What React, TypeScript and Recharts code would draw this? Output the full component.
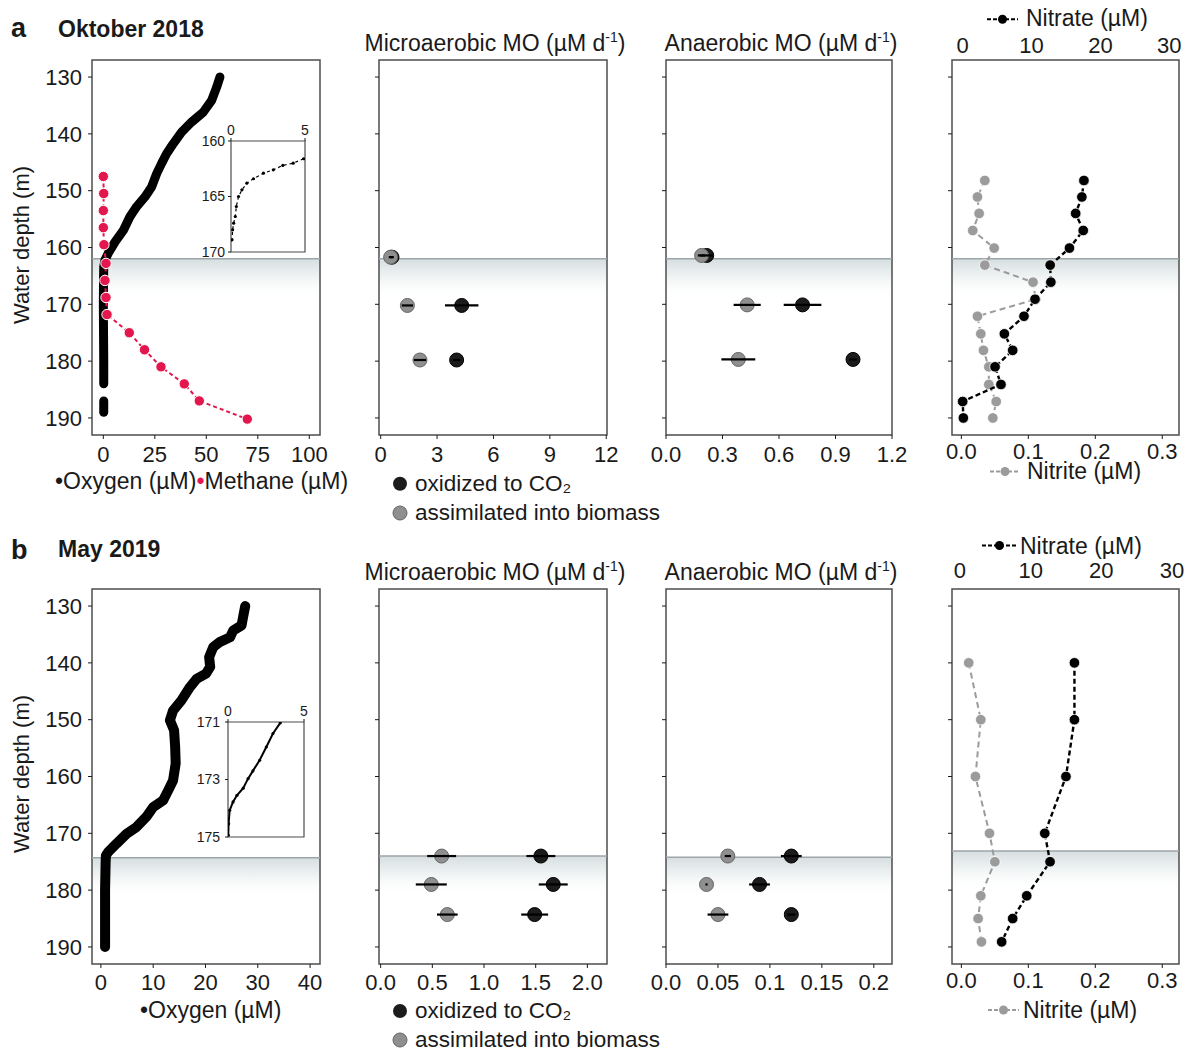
import React from "react";
import { ScatterChart, Scatter, XAxis, YAxis, ReferenceArea, ReferenceLine, ErrorBar } from "recharts";

const FONT = '"Liberation Sans", Arial, Helvetica, sans-serif';
const INK = "#1a1a1a";
const FRAME = "#4d4d4d";
const RED = "#e3174d";
const DARK_DOT = "#1c1c1c";
const GREY_DOT = "#8f8f8f";
const NITRITE = "#9b9b9b";

const DEPTH_DOMAIN = [127, 193];
const DEPTH_TICKS = [130, 140, 150, 160, 170, 180, 190];

// ---------- October 2018 ----------
const OCT_O2_DEPTH = [130, 131.8, 134.1, 136.2, 137.9, 139.7, 141.7, 143.5, 145.2, 147, 149.3, 151.1, 152.8, 154.6, 157, 159, 161, 162.2, 163.4, 166, 170, 175, 180, 184];
const OCT_O2 = [56.6, 55, 52.6, 48.5, 42.9, 38, 34, 30.7, 28.3, 25.9, 23.5, 20.2, 16.2, 12.9, 9.7, 5.7, 2.4, 0.8, 0.2, 0.1, 0, 0.1, 0.2, 0.2];
const OCT_O2_DEEP_DEPTH = [187, 189];
const OCT_O2_DEEP = [0.2, 0.2];

const OCT_INSET_DEPTH = [161.6, 162, 162.2, 162.6, 162.9, 163.4, 163.8, 164.4, 165, 165.9, 166.8, 167.4, 168, 168.9];
const OCT_INSET_O2 = [4.9, 4.2, 3.5, 2.86, 2.19, 1.52, 1.07, 0.74, 0.51, 0.36, 0.29, 0.18, 0.11, 0.07];

const OCT_CH4_DEPTH = [147.5, 150.5, 153.5, 156.5, 159.5, 162.8, 165.8, 168.8, 171.8, 175, 178, 181, 184, 187, 190.2];
const OCT_CH4 = [0, 0.2, 0, 0, 0.3, 1.3, 0.8, 1.3, 1.8, 12.6, 20, 28, 39.3, 46.6, 69.9];

const MICRO_OCT_DEPTH = [161.7, 170.2, 179.8];
const MICRO_OCT_CO2 = [0.6, 4.31, 4.04];
const MICRO_OCT_CO2_ERR = [0.1, 0.89, 0.2];
const MICRO_OCT_BIO = [0.53, 1.42, 2.09];
const MICRO_OCT_BIO_ERR = [0.1, 0.3, 0.33];

const ANAER_OCT_DEPTH = [161.4, 170.1, 179.7];
const ANAER_OCT_CO2 = [0.216, 0.725, 0.993];
const ANAER_OCT_CO2_ERR = [0.035, 0.1, 0.02];
const ANAER_OCT_BIO = [0.189, 0.431, 0.384];
const ANAER_OCT_BIO_ERR = [0.02, 0.072, 0.09];

const N_OCT_DEPTH = [148.2, 151.1, 154, 157, 160.1, 163.1, 166.1, 169.1, 172.1, 175.2, 178.1, 181, 184.1, 187.1, 190];
const N_OCT_NO3 = [17.6, 17.3, 16.4, 17.5, 15.5, 12.7, 12.8, 10.5, 8.9, 6.05, 7.26, 4.7, 5.56, 0, 0.1];
const N_OCT_NO2 = [0.035, 0.024, 0.0265, 0.017, 0.049, 0.035, 0.107, 0.111, 0.024, 0.029, 0.033, 0.041, 0.041, 0.052, 0.047];

// ---------- May 2019 ----------
const MAY_O2_DEPTH = [130, 131.9, 133.4, 134.3, 135.5, 136.3, 137.2, 139, 140.7, 141.9, 142.8, 144.3, 146.6, 148.4, 150.1, 151.9, 154.8, 157.7, 160.7, 162.4, 164.2, 165.4, 167.1, 168.9, 170.1, 171.8, 173.3, 173.9, 175.3, 180, 185, 190];
const MAY_O2 = [27.6, 27.2, 26.9, 25.3, 24.7, 22.8, 21.5, 20.7, 20.9, 20.1, 18.3, 17, 15.4, 13.8, 13.2, 14, 14.2, 14.3, 13.8, 12.9, 11.9, 10, 8.7, 6.8, 4.9, 3, 1.4, 0.96, 0.9, 0.8, 0.8, 0.8];

const MAY_INSET_DEPTH = [171.03, 171.4, 171.87, 172.33, 172.7, 172.97, 173.3, 173.55, 173.78, 174.07, 174.54, 174.94];
const MAY_INSET_O2 = [3.44, 2.96, 2.52, 2.08, 1.64, 1.32, 1.0, 0.59, 0.33, 0.11, 0.04, 0.02];

const RATE_MAY_DEPTH = [174, 179, 184.3];
const MICRO_MAY_CO2 = [1.55, 1.67, 1.49];
const MICRO_MAY_CO2_ERR = [0.14, 0.14, 0.13];
const MICRO_MAY_BIO = [0.59, 0.49, 0.645];
const MICRO_MAY_BIO_ERR = [0.14, 0.15, 0.1];
const ANAER_MAY_CO2 = [0.1206, 0.09, 0.1206];
const ANAER_MAY_CO2_ERR = [0.01, 0.01, 0.004];
const ANAER_MAY_BIO = [0.0595, 0.039, 0.05];
const ANAER_MAY_BIO_ERR = [0.003, 0.001, 0.01];

const N_MAY_DEPTH = [140, 150, 160, 170, 175, 181, 185, 189.1];
const N_MAY_NO3 = [16.2, 16.2, 15.0, 12.0, 12.75, 9.45, 7.46, 5.9];
const N_MAY_NO2 = [0.011, 0.029, 0.021, 0.042, 0.05, 0.029, 0.025, 0.03];

const pts = (xs: number[], ys: number[], es?: number[]) => xs.map((x, i) => ({ x, y: ys[i], e: es ? es[i] : 0 }));

// panel boxes (plot area, page px)
const COL_X = [[92, 320], [379, 607], [666, 892], [952, 1179]];
const ROW_Y = [[60, 435], [589, 964]];
const PAD_L = 60, PAD_T = 50, PAD_R = 20, PAD_B = 40;

const TICK = { fontSize: 22, fill: INK, fontFamily: FONT };
const THICK_O2 = { stroke: "#000", strokeWidth: 9, strokeLinecap: "round", strokeLinejoin: "round" };

const circle = (r: number, fill: string, stroke = "none", sw = 0) => (p: any) =>
  <circle cx={p.cx} cy={p.cy} r={r} fill={fill} stroke={stroke} strokeWidth={sw} />;
const none = () => <g />;

function Panel({ col, row, topAxis = 0, hidden = false, children }: any) {
  const [x1, x2] = COL_X[col];
  const [y1, y2] = ROW_Y[row];
  const margin = hidden
    ? { top: PAD_T, right: PAD_R, bottom: PAD_B, left: PAD_L }
    : { top: PAD_T - topAxis, right: PAD_R, bottom: 0, left: 0 };
  return (
    <div style={{ position: "absolute", left: x1 - PAD_L, top: y1 - PAD_T }}>
      <ScatterChart width={x2 - x1 + PAD_L + PAD_R} height={y2 - y1 + PAD_T + PAD_B} margin={margin}>
        {children}
      </ScatterChart>
    </div>
  );
}

const depthAxis = (labels: boolean) => (
  <YAxis key="yd" type="number" dataKey="y" domain={DEPTH_DOMAIN} ticks={DEPTH_TICKS} reversed allowDataOverflow
    width={PAD_L} axisLine={false} tickLine={{ stroke: INK }} tickSize={4} tickMargin={6} interval={0}
    tick={TICK} tickFormatter={labels ? undefined : () => ""} />
);

const xBottom = (domain: number[], ticks: number[], fmt?: (v: number) => string, id: any = 0, margin = 7) => (
  <XAxis key={"xb" + id} xAxisId={id} type="number" dataKey="x" domain={domain} ticks={ticks} allowDataOverflow
    height={PAD_B} axisLine={false} tickLine={{ stroke: INK }} tickSize={4} tickMargin={margin} interval={0}
    tick={TICK} tickFormatter={fmt} />
);

const shade = (d: number, id: string, xId: any = 0) => [
  <defs key="g">
    <linearGradient id={id} x1="0" y1="0" x2="0" y2="1">
      <stop offset="0" stopColor="#d6dee0" stopOpacity={1} />
      <stop offset="0.4" stopColor="#e9eeef" stopOpacity={0.85} />
      <stop offset="1" stopColor="#ffffff" stopOpacity={0} />
    </linearGradient>
  </defs>,
  <ReferenceArea key="sh" xAxisId={xId} y1={d} y2={d + 7} fill={`url(#${id})`} fillOpacity={1} stroke="none" ifOverflow="visible" />,
  <ReferenceLine key="ln" xAxisId={xId} y={d} stroke="#9ca5a8" strokeWidth={1.5} />,
];

const frame = (domain: number[], xId: any = 0) => (
  <ReferenceArea key="fr" xAxisId={xId} x1={domain[0]} x2={domain[1]} y1={DEPTH_DOMAIN[0]} y2={DEPTH_DOMAIN[1]}
    fill="none" fillOpacity={0} stroke={FRAME} strokeWidth={1.5} ifOverflow="visible" />
);

const rates = (co2: any[], bio: any[]) => [
  <Scatter key="c" data={co2} shape={circle(7, DARK_DOT, "#000", 1)} isAnimationActive={false} />,
  <Scatter key="b" data={bio} shape={circle(7, GREY_DOT, "#666", 1)} isAnimationActive={false} />,
];

// error bars in a transparent chart laid over the panel so the bars sit on top of the dots
function ErrOverlay({ col, row, domain, co2, bio }: any) {
  return (
    <Panel col={col} row={row} hidden>
      <XAxis type="number" dataKey="x" domain={domain} allowDataOverflow hide />
      <YAxis type="number" dataKey="y" domain={DEPTH_DOMAIN} reversed allowDataOverflow hide />
      {[co2, bio].map((d, i) => (
        <Scatter key={i} data={d} shape={none} isAnimationActive={false}>
          <ErrorBar dataKey="e" direction="x" width={0} stroke="#000" strokeWidth={2.2} />
        </Scatter>
      ))}
    </Panel>
  );
}

const nutrients = (no2: any[], no3: any[]) => [
  <Scatter key="n2" data={no2} shape={circle(5.3, NITRITE, "#fff", 0.8)} isAnimationActive={false}
    line={{ stroke: NITRITE, strokeWidth: 2, strokeDasharray: "6 4" }} />,
  <Scatter key="n3" xAxisId="no3" data={no3} shape={circle(5.3, "#000", "#fff", 0.8)} isAnimationActive={false}
    line={{ stroke: "#000", strokeWidth: 2.4, strokeDasharray: "5 3" }} />,
];

const fix1 = (v: number) => v.toFixed(1);
const anaerMayFmt = (v: number) => (v === 0 ? "0.0" : String(v));

function Inset({ box, yDomain, yTicks, data, lineMode, tickMargin }: any) {
  const [x1, x2, y1, y2] = box;
  const L = 40, T = 24, B = 14;
  return (
    <div style={{ position: "absolute", left: x1 - L, top: y1 - T }}>
      <ScatterChart width={x2 - x1 + L + 8} height={y2 - y1 + T + B} margin={{ top: 0, right: 8, bottom: B, left: 0 }}>
        <XAxis type="number" dataKey="x" orientation="top" domain={[0, 5]} ticks={[0, 5]} allowDataOverflow height={T}
          axisLine={false} tickLine={{ stroke: INK }} tickSize={3} tickMargin={3} interval={0}
          tick={{ fontSize: 14, fill: INK, fontFamily: FONT }} />
        <YAxis type="number" dataKey="y" domain={yDomain} ticks={yTicks} reversed allowDataOverflow width={L}
          axisLine={false} tickLine={{ stroke: INK }} tickSize={3} tickMargin={tickMargin} interval={0}
          tick={{ fontSize: 14, fill: INK, fontFamily: FONT }} />
        <ReferenceArea x1={0} x2={5} y1={yDomain[0]} y2={yDomain[1]} fill="none" fillOpacity={0} stroke={FRAME}
          strokeWidth={1.2} ifOverflow="visible" />
        <Scatter data={data} shape={circle(1.6, "#000")} isAnimationActive={false}
          line={lineMode ? { stroke: "#000", strokeWidth: 2 } : { stroke: "#000", strokeWidth: 1.2, strokeDasharray: "3 3" }} />
      </ScatterChart>
    </div>
  );
}

const O2_OCT_DOMAIN = [-5.5, 105.2];
const O2_MAY_DOMAIN = [-1.7, 41.9];
const MICRO_OCT_DOMAIN = [-0.09, 12.04];
const MICRO_MAY_DOMAIN = [-0.016, 2.19];
const ANAER_OCT_DOMAIN = [0, 1.2];
const ANAER_MAY_DOMAIN = [0, 0.2175];
const NO2_DOMAIN = [-0.014, 0.325];
const NO3_OCT_DOMAIN = [-1.55, 31.4];
const NO3_MAY_DOMAIN = [-1.13, 31.0];

function NutrientPanel({ row, no2, no3, no3Domain, chemo, topMargin, id }: any) {
  return (
    <Panel col={3} row={row} topAxis={32}>
      {depthAxis(false)}
      {xBottom(NO2_DOMAIN, [0, 0.1, 0.2, 0.3], fix1, 0, 4)}
      <XAxis xAxisId="no3" orientation="top" type="number" dataKey="x" domain={no3Domain} ticks={[0, 10, 20, 30]}
        allowDataOverflow height={32} axisLine={false} tickLine={false} tickSize={4} tickMargin={topMargin}
        interval={0} tick={TICK} />
      {shade(chemo, id)}
      {nutrients(no2, no3)}
      {frame(NO2_DOMAIN)}
    </Panel>
  );
}

function RatePanel({ col, row, domain, ticks, fmt, chemo, id, co2, bio, margin = 7 }: any) {
  return (
    <>
      <Panel col={col} row={row}>
        {depthAxis(false)}
        {xBottom(domain, ticks, fmt, 0, margin)}
        {shade(chemo, id)}
        {rates(co2, bio)}
        {frame(domain)}
      </Panel>
      <ErrOverlay col={col} row={row} domain={domain} co2={co2} bio={bio} />
    </>
  );
}

export default function App() {
  const octO2 = pts(OCT_O2, OCT_O2_DEPTH);
  const octO2Deep = pts(OCT_O2_DEEP, OCT_O2_DEEP_DEPTH);
  const octCh4 = pts(OCT_CH4, OCT_CH4_DEPTH);
  const mayO2 = pts(MAY_O2, MAY_O2_DEPTH);

  const legendSym = (x1: number, x2: number, y: number, color: string, dash: string) => (
    <g>
      <line x1={x1} x2={x2} y1={y} y2={y} stroke={color} strokeWidth={2} strokeDasharray={dash} />
      <circle cx={(x1 + x2) / 2} cy={y} r={4.5} fill={color} />
    </g>
  );

  return (
    <div style={{ position: "absolute", left: 0, top: 0, width: 1193, height: 1051, background: "#fff", fontFamily: FONT, color: INK, overflow: "hidden" }}>
      {/* ---- row a ---- */}
      <Panel col={0} row={0}>
        {depthAxis(true)}
        {xBottom(O2_OCT_DOMAIN, [0, 25, 50, 75, 100])}
        {shade(162, "ga1")}
        <Scatter data={octO2} shape={none} line={THICK_O2} isAnimationActive={false} />
        <Scatter data={octO2Deep} shape={none} line={THICK_O2} isAnimationActive={false} />
        <Scatter data={octCh4} shape={circle(5.2, RED, "#fff", 1)} isAnimationActive={false}
          line={{ stroke: RED, strokeWidth: 2, strokeDasharray: "4 3" }} />
        {frame(O2_OCT_DOMAIN)}
      </Panel>
      <Inset box={[231, 305, 141, 252]} yDomain={[160, 170]} yTicks={[160, 165, 170]}
        data={pts(OCT_INSET_O2, OCT_INSET_DEPTH)} lineMode={false} tickMargin={3} />

      <RatePanel col={1} row={0} domain={MICRO_OCT_DOMAIN} ticks={[0, 3, 6, 9, 12]} chemo={162} id="ga2"
        co2={pts(MICRO_OCT_CO2, MICRO_OCT_DEPTH, MICRO_OCT_CO2_ERR)} bio={pts(MICRO_OCT_BIO, MICRO_OCT_DEPTH, MICRO_OCT_BIO_ERR)} />
      <RatePanel col={2} row={0} domain={ANAER_OCT_DOMAIN} ticks={[0, 0.3, 0.6, 0.9, 1.2]} fmt={fix1} chemo={162} id="ga3"
        co2={pts(ANAER_OCT_CO2, ANAER_OCT_DEPTH, ANAER_OCT_CO2_ERR)} bio={pts(ANAER_OCT_BIO, ANAER_OCT_DEPTH, ANAER_OCT_BIO_ERR)} />

      <NutrientPanel row={0} no2={pts(N_OCT_NO2, N_OCT_DEPTH)} no3={pts(N_OCT_NO3, N_OCT_DEPTH)}
        no3Domain={NO3_OCT_DOMAIN} chemo={162} topMargin={3} id="ga4" />

      {/* ---- row b ---- */}
      <Panel col={0} row={1}>
        {depthAxis(true)}
        {xBottom(O2_MAY_DOMAIN, [0, 10, 20, 30, 40], undefined, 0, 6)}
        {shade(174.3, "gb1")}
        <Scatter data={mayO2} shape={none} line={{ ...THICK_O2, strokeWidth: 10 }} isAnimationActive={false} />
        {frame(O2_MAY_DOMAIN)}
      </Panel>
      <Inset box={[228, 304, 722, 837]} yDomain={[171, 175]} yTicks={[171, 173, 175]}
        data={pts(MAY_INSET_O2, MAY_INSET_DEPTH)} lineMode={true} tickMargin={5} />

      <RatePanel col={1} row={1} domain={MICRO_MAY_DOMAIN} ticks={[0, 0.5, 1, 1.5, 2]} fmt={fix1} chemo={174} id="gb2" margin={6}
        co2={pts(MICRO_MAY_CO2, RATE_MAY_DEPTH, MICRO_MAY_CO2_ERR)} bio={pts(MICRO_MAY_BIO, RATE_MAY_DEPTH, MICRO_MAY_BIO_ERR)} />
      <RatePanel col={2} row={1} domain={ANAER_MAY_DOMAIN} ticks={[0, 0.05, 0.1, 0.15, 0.2]} fmt={anaerMayFmt} chemo={174.2} id="gb3" margin={6}
        co2={pts(ANAER_MAY_CO2, RATE_MAY_DEPTH, ANAER_MAY_CO2_ERR)} bio={pts(ANAER_MAY_BIO, RATE_MAY_DEPTH, ANAER_MAY_BIO_ERR)} />

      <NutrientPanel row={1} no2={pts(N_MAY_NO2, N_MAY_DEPTH)} no3={pts(N_MAY_NO3, N_MAY_DEPTH)}
        no3Domain={NO3_MAY_DOMAIN} chemo={173.1} topMargin={7} id="gb4" />

      {/* ---- text overlay ---- */}
      <svg width={1193} height={1051} style={{ position: "absolute", left: 0, top: 0, pointerEvents: "none" }}>
        <g fontFamily={FONT} fill={INK}>
          <text x={11} y={36.5} fontSize={27} fontWeight="bold">a</text>
          <text x={58} y={36.5} fontSize={23} fontWeight="bold">Oktober 2018</text>
          <text x={11} y={559} fontSize={27} fontWeight="bold">b</text>
          <text x={58} y={557} fontSize={23} fontWeight="bold">May 2019</text>

          {[245, 774].map((cy) => (
            <text key={cy} transform={`translate(29,${cy}) rotate(-90)`} textAnchor="middle" fontSize={22}>Water depth (m)</text>
          ))}

          {[50.5, 580].map((y) => (
            <g key={y}>
              <text x={495} y={y} textAnchor="middle" fontSize={23}>
                Microaerobic MO (µM d<tspan dy={-9} fontSize={14}>-1</tspan><tspan dy={9}>)</tspan>
              </text>
              <text x={781} y={y} textAnchor="middle" fontSize={23}>
                Anaerobic MO (µM d<tspan dy={-9} fontSize={14}>-1</tspan><tspan dy={9}>)</tspan>
              </text>
            </g>
          ))}

          <text x={55} y={489} fontSize={23}>
            •Oxygen (µM)<tspan fill={RED}>•</tspan>Methane (µM)
          </text>
          <text x={140} y={1018} fontSize={23}>•Oxygen (µM)</text>

          {[[483.7, 491, 513, 520], [1011, 1018, 1040, 1047]].map(([c1, b1, c2, b2]) => (
            <g key={c1}>
              <circle cx={400} cy={c1} r={7} fill={DARK_DOT} />
              <text x={415} y={b1} fontSize={22.5}>oxidized to CO₂</text>
              <circle cx={400} cy={c2} r={7} fill={GREY_DOT} stroke="#666" strokeWidth={1} />
              <text x={415} y={b2} fontSize={22.5}>assimilated into biomass</text>
            </g>
          ))}

          {legendSym(987, 1018, 19.3, "#000", "4 2")}
          <text x={1026} y={26} fontSize={23}>Nitrate (µM)</text>
          {legendSym(990, 1020, 471.5, NITRITE, "4 2")}
          <text x={1027} y={479} fontSize={23}>Nitrite (µM)</text>

          {legendSym(982, 1017, 545.5, "#000", "4 2")}
          <text x={1020} y={554} fontSize={23}>Nitrate (µM)</text>
          {legendSym(988, 1019, 1010, NITRITE, "4 2")}
          <text x={1023} y={1017.5} fontSize={23}>Nitrite (µM)</text>
        </g>
      </svg>
    </div>
  );
}
